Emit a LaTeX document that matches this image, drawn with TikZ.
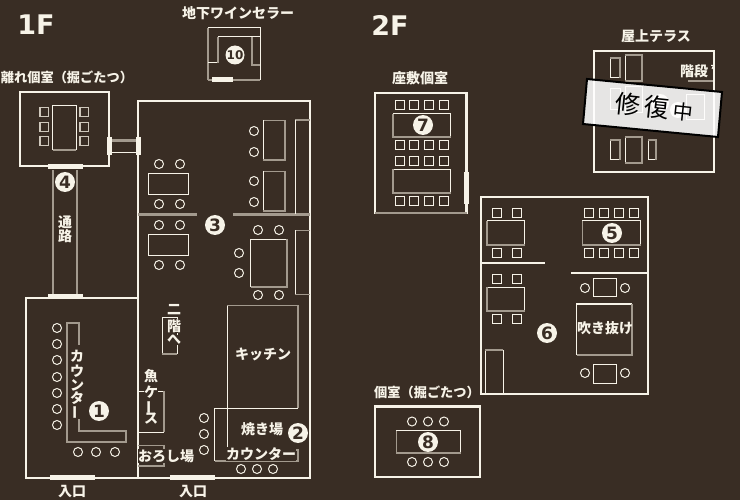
\documentclass[tikz,border=0pt]{standalone}
\usepackage{fontspec}
\setmainfont{Noto Sans CJK JP}
\newfontfamily\numfont{DejaVu Sans}
\definecolor{bgbrown}{HTML}{392D24}
\definecolor{creamw}{HTML}{F7F3E8}
\definecolor{wallgray}{HTML}{A39A8E}
\definecolor{chairgray}{HTML}{CFC8BC}
\tikzset{
	wall/.style = {draw=creamw, line width=2.2pt},
	wallg/.style = {draw=wallgray, line width=2.2pt},
	tblw/.style = {draw=creamw, line width=1pt},
	tblg/.style = {draw=wallgray, line width=1.7pt},
	seat/.style = {draw=creamw, line width=1pt},
	door/.style = {draw=creamw, line width=5pt},
	lbl/.style = {text=creamw, font=\bfseries\fontsize{14}{14}\selectfont, inner sep=0.3pt},
	lblsm/.style = {lbl, font=\bfseries\fontsize{13.2}{13.2}\selectfont},
	lblbg/.style = {lbl, fill=bgbrown},
	marker/.style = {circle, fill=creamw, text=bgbrown, minimum size=20pt, inner sep=0pt, font=\numfont\bfseries\fontsize{17}{17}\selectfont},
	floorlbl/.style = {text=creamw, font=\numfont\bfseries\fontsize{27}{27}\selectfont, inner sep=0pt}
}
\newcommand{\tablerect}[2]{\draw[tblw] #1 rectangle #2; \draw[tblg] #1 |- #2;}
\newcommand{\vbar}{\rotatebox{90}{ー}}
\begin{document}
\begin{tikzpicture}[x=1pt,y=-1pt]
	\fill[bgbrown] (0,0) rectangle (740,500);
	\useasboundingbox (0,0) rectangle (740,500);

	\node[floorlbl] (floorone) at (36,25) {1F};
	\node[floorlbl] (floortwo) at (390,25) {2F};

	% cellar
	\draw[tblg] (208,80) -- (208,28);
	\draw[tblw] (208,28) -- (260,28) -- (260,80);
	\draw[tblg] (208,80) -- (260,80);
	\draw[tblw] (208,63) -- (218,63);
	\draw[tblg] (218,63) -- (218,37);
	\draw[tblw] (218,37) -- (260,37);
	\draw[tblg] (252,37) -- (252,65) -- (260,65);
	\draw[door] (212,79.5) -- (233,79.5);
	\node[lbl] (cellarlbl) at (238,13) {地下ワインセラー};
	\node[marker, minimum size=19pt, font=\numfont\bfseries\fontsize{12}{12}\selectfont] (mten) at (235,55) {10};

	% annex room
	\draw[wall] (20,92) rectangle (109,166);
	\draw[tblw] (52.5,105.5) rectangle (76,150);
	\draw[tblg] (52.5,150) -- (76,150);
	\foreach \cy in {112,127,141} {
		\draw[draw=chairgray, line width=1.1pt] (40,\cy-4.5) rectangle (48.5,\cy+4.5);
		\draw[draw=chairgray, line width=1.1pt] (80,\cy-4.5) rectangle (88.5,\cy+4.5);
	}
	\node[lblsm] (annexlbl) at (67,77) {離れ個室（掘ごたつ）};
	\draw[wallg] (53,170) -- (53,296);
	\draw[wallg] (77,170) -- (77,296);
	\draw[door] (48,167) -- (83,167);
	\draw[door] (48,297) -- (83,297);
	\node[marker] (mfour) at (65,182) {4};
	\node[lbl] (passlbla) at (65,222) {通};
	\node[lbl] (passlblb) at (65,236) {路};
	\draw[wallg] (111,140.5) -- (136,140.5);
	\draw[tblw] (111,152.5) -- (136,152.5);
	\draw[door] (109,137) -- (109,155.5);
	\draw[door] (138,137) -- (138,155.5);

	% main room
	\draw[wall] (138,478) -- (138,101) -- (310,101) -- (310,478) -- (26,478) -- (26,298) -- (138,298);
	\draw[door] (50,477) -- (95,477);
	\draw[door] (170,477) -- (215,477);
	\node[lbl] (doorlbla) at (72,492) {入口};
	\node[lbl] (doorlblb) at (193,492) {入口};
	\draw[wallg] (138,214.5) -- (197,214.5);
	\draw[wallg] (233,214.5) -- (310,214.5);
	\node[marker] (mthree) at (215,225) {3};

	\draw[tblw] (148.5,173.5) rectangle (188.5,195);
	\draw[tblw] (148.5,234.5) rectangle (188.5,256);
	\foreach \cx/\cy in {159/164,180/164,159/204,180/204,159/225,180/225,159/265,180/265,254/131,254/152,254/181,254/202,258/230,279/230,258/295,279/295,239/253,239/273}
		\draw[seat] (\cx,\cy) circle (4.5);
	\draw[tblg] (285,120.5) -- (263,120.5);
	\draw[tblw] (263,120.5) -- (263,160);
	\draw[tblg] (263,160) -- (285,160) -- (285,120.5);
	\draw[tblg] (285,171.5) -- (263,171.5);
	\draw[tblw] (263,171.5) -- (263,211);
	\draw[tblg] (263,211) -- (285,211) -- (285,171.5);
	\draw[tblg] (310,120) -- (295,120);
	\draw[tblw] (295,120) -- (295,214);
	\draw[tblw] (250.5,239.5) -- (250.5,287);
	\draw[tblw] (250.5,239.5) -- (287,239.5);
	\draw[tblg] (250.5,287) -- (287,287) -- (287,239.5);
	\draw[tblg] (310,230.5) -- (295,230.5);
	\draw[tblw] (295,230.5) -- (295,294.5);
	\draw[tblg] (295,294.5) -- (310,294.5);

	% stairs
	\draw[tblw] (162,354) -- (162,317) -- (177,317) -- (177,354);
	\draw[tblg] (162,354) -- (177,354);
	\node[lblbg] (stairlbla) at (174,310) {二};
	\node[lblbg] (stairlblb) at (174,326) {階};
	\node[lblbg] (stairlblc) at (174,340) {へ};

	% fish case and prep
	\draw[tblw] (138,391) -- (164,391);
	\draw[tblg] (164,391) -- (164,432);
	\draw[tblw] (138,432) -- (164,432);
	\node[lblbg] (fishlbla) at (151,376) {魚};
	\node[lblbg] (fishlblb) at (151,392) {ケ};
	\node[lblbg] (fishlblc) at (151,407) {\vbar};
	\node[lblbg] (fishlbld) at (151,419) {ス};
	\draw[tblg, line width=1.2pt] (138,445.5) -- (164,445.5) -- (164,466) -- (138,466);
	\node[lblbg] (preplbl) at (166,456) {おろし場};

	% kitchen
	\draw[tblg] (227,305.5) -- (298,305.5) -- (298,408);
	\draw[tblw] (227,305.5) -- (227,448);
	\draw[tblw] (298,408) -- (214.5,408) -- (214.5,461);
	\draw[tblg] (214.5,461) -- (298,461) -- (298,450) -- (285,450);
	\node[lbl] (kitchenlbl) at (263,354) {キッチン};
	\node[lbl] (grilllbl) at (262,429) {焼き場};
	\node[marker] (mtwo) at (298,433) {2};
	\node[lblbg] (counterlbla) at (261,454) {カウンター};
	\foreach \cx/\cy in {241/469,257/469,273/469,204/418,204/434,204/450}
		\draw[seat] (\cx,\cy) circle (4.5);

	% counter room
	\draw[tblg] (79,345) -- (79,323) -- (67,323) -- (67,442) -- (126,442) -- (126,431) -- (79,431) -- (79,418);
	\foreach \cy in {328,344,360,377,393,409,425}
		\draw[seat] (57,\cy) circle (4.5);
	\foreach \cx in {78,96,115}
		\draw[seat] (\cx,452) circle (4.5);
	\node[lblbg] (counterlblb) at (77,356) {カ};
	\node[lblbg] (counterlblc) at (77,371) {ウ};
	\node[lblbg] (counterlbld) at (77,385) {ン};
	\node[lblbg] (counterlble) at (77,398) {タ};
	\node[lblbg] (counterlblf) at (77,412) {\vbar};
	\node[marker] (mone) at (99,411) {1};

	% tatami room
	\draw[wall] (375,93) rectangle (466.5,213);
	\draw[wallg] (375,213) -- (466.5,213);
	\draw[door] (466.5,172) -- (466.5,204);
	\node[lbl] (tatamilbl) at (420,78) {座敷個室};
	\tablerect{(393,114)}{(450.5,137)}
	\tablerect{(393,169.5)}{(450.5,193)}
	\foreach \cx in {399.5,414,429,444}
		\foreach \cy in {105,145,161,201} {
			\draw[tblw] (\cx-4.5,\cy-4.5) rectangle (\cx+4.5,\cy+4.5);
		}
	\node[marker] (mseven) at (423,125) {7};

	% second floor hall
	\draw[wall] (481,197) rectangle (648,394);
	\draw[wall] (481,263) -- (545,263);
	\draw[wall] (571,273) -- (648,273);
	\tablerect{(487,221)}{(524.5,245)}
	\tablerect{(487,287.5)}{(524.5,311)}
	\tablerect{(582.5,221)}{(640.5,245)}
	\foreach \cx/\cy in {496.5/213,516.5/213,496.5/253,516.5/253,496.5/279,516.5/279,496.5/319,516.5/319,589/213,604/213,619/213,634/213,589/253,604/253,619/253,634/253} {
		\draw[tblw] (\cx-4.5,\cy-4.5) rectangle (\cx+4.5,\cy+4.5);
	}
	\node[marker] (mfive) at (612,233) {5};
	\node[marker] (msix) at (547,333) {6};
	\draw[tblw] (576.5,355) -- (576.5,304) -- (632,304);
	\draw[tblg] (632,304) -- (632,355) -- (576.5,355);
	\node[lbl] (voidlbl) at (605,328.5) {吹き抜け};
	\draw[tblw] (593.5,278.5) rectangle (616,297);
	\draw[tblw] (593.5,364.5) rectangle (616,383);
	\foreach \cx/\cy in {585/288,625/288,585/373,625/373}
		\draw[seat] (\cx,\cy) circle (4.5);
	\draw[tblw] (485,394) -- (485,350);
	\draw[tblg] (485,350) -- (503,350);
	\draw[tblw] (503,350) -- (503,394);

	% small room
	\node[lblsm] (smalllbl) at (427,392) {個室（掘ごたつ）};
	\draw[wall] (375,406.5) rectangle (480,477);
	\tablerect{(396.5,430.5)}{(460.5,453)}
	\foreach \cx in {412,428,444} {
		\draw[seat] (\cx,421.5) circle (4.5);
		\draw[seat] (\cx,462) circle (4.5);
	}
	\node[marker] (meight) at (428,442) {8};

	% terrace
	\node[lbl] (terracelbl) at (656,36) {屋上テラス};
	\draw[wall] (594,51) rectangle (714,172);
	\draw[tblw] (610,58) rectangle (620,78);
	\draw[tblg] (610,58) -- (620,58) -- (620,78);
	\draw[tblw] (625,55) rectangle (642,81);
	\draw[tblg] (625,55) -| (642,81) -- (625,81);
	\draw[tblw] (610,140) rectangle (620,160);
	\draw[tblg] (610,140) -- (620,140) -- (620,160);
	\draw[tblw] (625,137) rectangle (642,163);
	\draw[tblg] (625,137) -| (642,163) -- (625,163);
	\draw[tblw] (648,140) rectangle (656,160);
	\draw[tblg] (648,140) -- (656,140) -- (656,160);
	\draw[tblw] (610,89) rectangle (620,110);
	\draw[tblw] (625,87) rectangle (642,113);
	\draw[tblw] (686,95) rectangle (704,120);
	\fill[creamw] (660,103) circle (9);
	\fill[creamw] (678,110) circle (8);
	\draw[wallg] (688,81) -- (713,81);
	\node[lbl] (steplbl) at (694,71) {階段};
	\draw[tblw] (711,65.5) -- (713.5,65.5) -- (712,69);

	\coordinate (bannera) at (587,79);
	\coordinate (bannerb) at (722,92);
	\coordinate (bannerc) at (718,137);
	\coordinate (bannerd) at (583,124);
	\fill[white, fill opacity=0.88] (bannera) -- (bannerb) -- (bannerc) -- (bannerd) -- cycle;
	\draw[black, line width=2pt, line join=miter] (bannera) -- (bannerb) -- (bannerc) -- (bannerd) -- cycle;
	\node[text=black, rotate=-6, inner sep=0pt, font=\fontsize{25}{25}\selectfont] (repairlbl) at (654,107) {修\,復\,{\fontsize{20}{20}\selectfont 中}};
\end{tikzpicture}
\end{document}
